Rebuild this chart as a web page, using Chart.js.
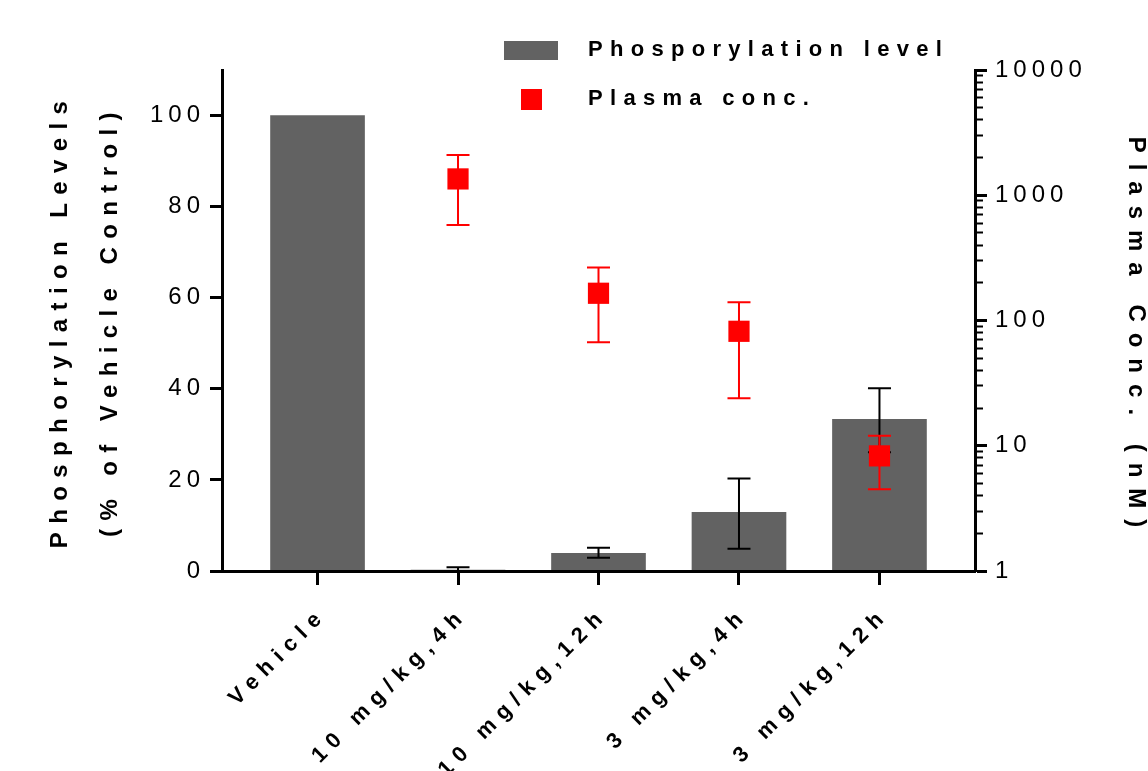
<!DOCTYPE html>
<html>
<head>
<meta charset="utf-8">
<script src="https://cdn.jsdelivr.net/npm/chart.js@4"></script>
<style>
  html, body { margin: 0; padding: 0; background: #fff; }
</style>
</head>
<body>
<canvas id="graph" width="1148" height="771"></canvas>
<script>
const categories = ["Vehicle", "10 mg/kg,4h", "10 mg/kg,12h", "3 mg/kg,4h", "3 mg/kg,12h"];

// phosphorylation (% of vehicle), bar + error range
const phospho = [100, 0.2, 3.9, 12.9, 33.3];
const phosphoLow = [null, 0, 2.9, 4.9, 26.1];
const phosphoHigh = [null, 0.8, 5.1, 20.3, 40.1];

// plasma concentration (nM), marker + error range
const plasma = [null, 1350, 165, 82, 8.3];
const plasmaLow = [null, 580, 67, 24, 4.5];
const plasmaHigh = [null, 2100, 265, 140, 12];

const leftTicks = [0, 20, 40, 60, 80, 100];
const rightMajorTicks = [1, 10, 100, 1000, 10000];

const FONT = '"Liberation Sans", Arial, sans-serif';
Chart.defaults.font.family = FONT;
Chart.defaults.color = "#000";

function swatch(color, w, h) {
  const c = document.createElement("canvas");
  c.width = w;
  c.height = h;
  const g = c.getContext("2d");
  g.fillStyle = color;
  g.fillRect(0, 0, w, h);
  return c;
}
const legendSwatches = [swatch("#626262", 54, 19), swatch("#ff0000", 21, 21)];

// canvas letterSpacing per text element (Prism-style spaced text)
function withSpacing(obj, name, px, dy) {
  if (!obj || obj["_sp_" + name]) return;
  const orig = obj[name];
  obj[name] = function (...args) {
    const ctx = this.ctx;
    const prev = ctx.letterSpacing;
    ctx.save();
    if (dy) ctx.translate(0, dy);
    ctx.letterSpacing = px + "px";
    const r = orig.apply(this, args);
    ctx.letterSpacing = prev;
    ctx.restore();
    return r;
  };
  obj["_sp_" + name] = true;
}

const textSpacing = {
  id: "textSpacing",
  afterLayout(chart) {
    const s = chart.scales;
    withSpacing(s.x, "drawLabels", 7.5);
    withSpacing(s.y, "drawLabels", 5);
    withSpacing(s.y2, "drawLabels", 5);
    withSpacing(s.y, "drawTitle", 8.4);
    withSpacing(s.y2, "drawTitle", 11, 17);
    const lg = chart.legend;
    withSpacing(lg, "draw", 7.3);
    lg.left = 458;
    lg.top = 12;
    lg.right = lg.left + 650;
    lg.bottom = lg.top + 200;
  },
};

const errorBars = {
  id: "errorBars",
  beforeDatasetDraw(chart, args) {
    if (args.index !== 1) return;
    const ctx = chart.ctx;
    const x = chart.scales.x;
    const cap = 11.5;
    const draw = (i, lo, hi, scale, color) => {
      const px = x.getPixelForValue(i);
      const top = scale.getPixelForValue(hi);
      const bot = scale.getPixelForValue(lo);
      ctx.strokeStyle = color;
      ctx.beginPath();
      ctx.moveTo(px, top);
      ctx.lineTo(px, bot);
      ctx.moveTo(px - cap, top);
      ctx.lineTo(px + cap, top);
      ctx.moveTo(px - cap, bot);
      ctx.lineTo(px + cap, bot);
      ctx.stroke();
    };
    ctx.save();
    ctx.lineWidth = 2;
    categories.forEach((c, i) => {
      if (phosphoHigh[i] !== null) draw(i, phosphoLow[i], phosphoHigh[i], chart.scales.y, "#000");
    });
    categories.forEach((c, i) => {
      if (plasmaHigh[i] !== null) draw(i, plasmaLow[i], plasmaHigh[i], chart.scales.y2, "#ff0000");
    });
    ctx.restore();
  },
};

const isMajor = (ctx) => ctx.tick && rightMajorTicks.includes(ctx.tick.value);

new Chart(document.getElementById("graph"), {
  data: {
    datasets: [
      {
        type: "bar",
        label: "Phosporylation level",
        data: phospho.map((v, i) => ({ x: i, y: v })),
        backgroundColor: "#626262",
        barThickness: 94,
        yAxisID: "y",
        order: 1,
      },
      {
        type: "line",
        label: "Plasma conc.",
        data: plasma.map((v, i) => ({ x: i, y: v })).filter((p) => p.y !== null),
        showLine: false,
        pointStyle: "rect",
        pointRadius: 15,
        pointHoverRadius: 15,
        pointBorderWidth: 0,
        backgroundColor: "#ff0000",
        borderColor: "#ff0000",
        yAxisID: "y2",
        order: 0,
      },
    ],
  },
  options: {
    responsive: false,
    animation: false,
    layout: { padding: { top: 70, left: 0, right: 0, bottom: 0 } },
    plugins: {
      tooltip: { enabled: false },
      legend: {
        position: "chartArea",
        align: "start",
        labels: {
          usePointStyle: true,
          pointStyleWidth: 92,
          padding: 27,
          color: "#000",
          font: { size: 22, weight: "bold" },
          generateLabels: (chart) => {
            const items = Chart.defaults.plugins.legend.labels.generateLabels(chart);
            items.sort((a, b) => a.datasetIndex - b.datasetIndex);
            items.forEach((it) => {
              it.pointStyle = legendSwatches[it.datasetIndex];
            });
            return items;
          },
        },
      },
    },
    scales: {
      x: {
        type: "linear",
        min: -0.68,
        max: 4.68,
        offset: false,
        afterBuildTicks: (s) => {
          s.ticks = categories.map((c, i) => ({ value: i }));
        },
        afterFit: (s) => {
          s.height = 200;
        },
        ticks: {
          callback: (v) => categories[v],
          autoSkip: false,
          minRotation: 45,
          maxRotation: 45,
          padding: 17,
          labelOffset: 6,
          color: "#000",
          font: { size: 22, weight: "bold" },
        },
        grid: {
          offset: false,
          drawOnChartArea: false,
          tickLength: 14,
          tickWidth: 3,
          tickColor: "#000",
        },
        border: { color: "#000", width: 3, z: 1 },
      },
      y: {
        type: "linear",
        position: "left",
        min: 0,
        max: 110,
        afterBuildTicks: (s) => {
          s.ticks = leftTicks.map((v) => ({ value: v }));
        },
        afterFit: (s) => {
          s.width = 222;
        },
        ticks: {
          padding: 5,
          color: "#000",
          font: { size: 24 },
        },
        grid: {
          drawOnChartArea: false,
          tickLength: 12,
          tickWidth: 3,
          tickColor: "#000",
        },
        border: { color: "#000", width: 3, z: 1 },
        title: {
          display: true,
          text: ["Phosphorylation Levels", "(% of Vehicle Control)"],
          color: "#000",
          font: { size: 24, weight: "bold", lineHeight: 2.1 },
          padding: { top: 35, bottom: 0 },
        },
      },
      y2: {
        type: "logarithmic",
        position: "right",
        min: 1,
        max: 10000,
        afterBuildTicks: (s) => {
          const t = [];
          rightMajorTicks.forEach((m, i) => {
            if (i === rightMajorTicks.length - 1) {
              t.push({ value: m, major: true });
              return;
            }
            for (let k = 1; k < 10; k++) t.push({ value: m * k, major: k === 1 });
          });
          s.ticks = t;
        },
        afterFit: (s) => {
          s.width = 173;
        },
        ticks: {
          autoSkip: false,
          padding: 8,
          color: "#000",
          font: { size: 24 },
          callback: (v) => (rightMajorTicks.includes(v) ? String(v) : ""),
        },
        grid: {
          drawOnChartArea: false,
          tickLength: 12,
          tickColor: "#000",
          tickWidth: (ctx) => (isMajor(ctx) ? 3 : 2),
          tickBorderDash: (ctx) => (isMajor(ctx) ? [] : [6, 30]),
        },
        border: { color: "#000", width: 3, z: 1 },
        title: {
          display: true,
          text: "Plasma Conc. (nM)",
          color: "#000",
          font: { size: 24, weight: "bold", lineHeight: 1 },
          padding: 0,
        },
      },
    },
  },
  plugins: [textSpacing, errorBars],
});
</script>
</body>
</html>
